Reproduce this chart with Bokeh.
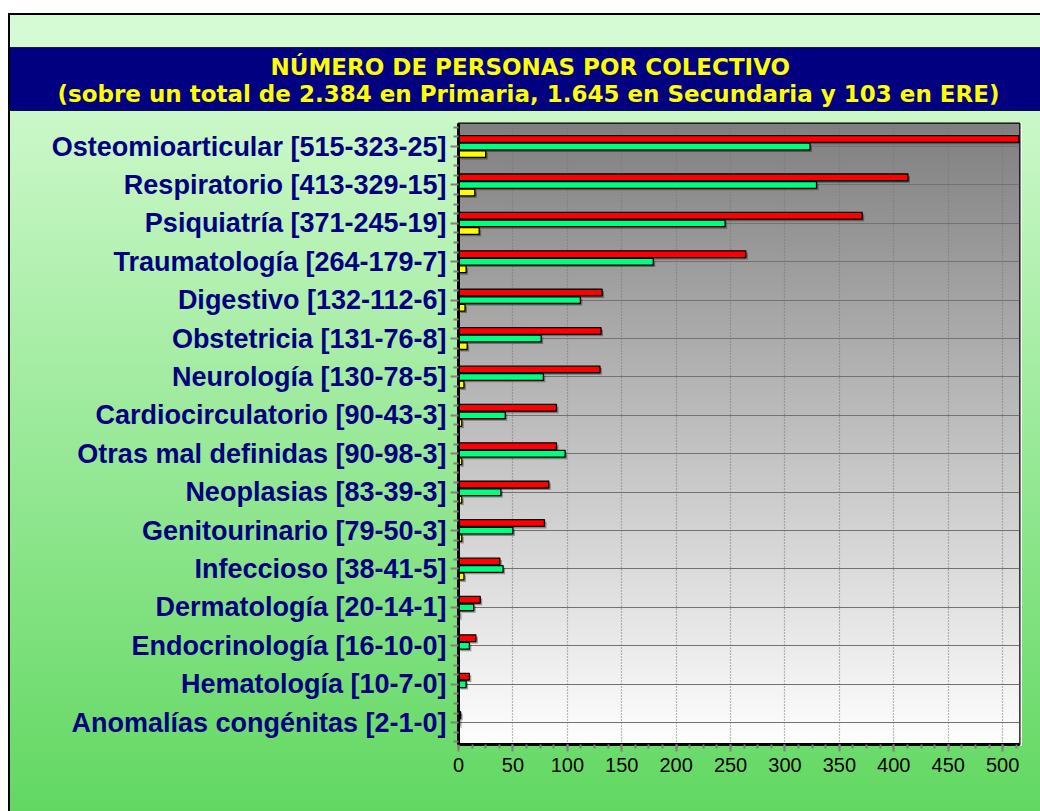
import numpy as np
from bokeh.plotting import figure
from bokeh.models import Range1d, FixedTicker, Title
from bokeh.embed import file_html
from bokeh.resources import INLINE

# ---------------- data ----------------
categories = ["Osteomioarticular", "Respiratorio", "Psiquiatría", "Traumatología",
              "Digestivo", "Obstetricia", "Neurología", "Cardiocirculatorio",
              "Otras mal definidas", "Neoplasias", "Genitourinario", "Infeccioso",
              "Dermatología", "Endocrinología", "Hematología", "Anomalías congénitas"]
primaria = [515, 413, 371, 264, 132, 131, 130, 90, 90, 83, 79, 38, 20, 16, 10, 2]
secundaria = [323, 329, 245, 179, 112, 76, 78, 43, 98, 39, 50, 41, 14, 10, 7, 1]
ere = [25, 15, 19, 7, 6, 8, 5, 3, 3, 3, 3, 5, 1, 0, 0, 0]
x_ticks = [0, 50, 100, 150, 200, 250, 300, 350, 400, 450, 500]
title_line1 = "NÚMERO DE PERSONAS POR COLECTIVO"
title_line2 = "(sobre un total de 2.384 en Primaria, 1.645 en Secundaria y 103 en ERE)"

n = len(categories)
pos = [n - 1 - k for k in range(n)]
labels = {pos[k]: f"{categories[k]} [{primaria[k]}-{secundaria[k]}-{ere[k]}]" for k in range(n)}

X_END = 515.5
Y_START, Y_END = -0.57, 15.6

W, H = 1040, 811
FRAME_L, FRAME_R, FRAME_T, FRAME_B = 458, 1019, 123, 744

css_bg = ", ".join([
    "linear-gradient(#fff,#fff) 0px 0px / 8px 100% no-repeat",
    "linear-gradient(#000,#000) 8px 13px / 2px 100% no-repeat",
    "linear-gradient(#fff,#fff) 1020px 122px / 2px 624px no-repeat",
    "linear-gradient(to bottom, #ffffff 0px, #ffffff 13px, #000000 13px, #000000 15px, "
    "#d4fbd4 15px, #d4fbd4 47px, #1a1a40 47px, #1a1a40 48px, #000080 48px, #000080 110px, "
    "#101030 110px, #101030 111px, #cbf8c9 111px, #62d862 100%)",
])

p = figure(width=W, height=H, output_backend="svg", toolbar_location=None,
           x_range=Range1d(0, X_END), y_range=Range1d(Y_START, Y_END),
           min_border_left=FRAME_L, min_border_right=W - FRAME_R,
           min_border_top=FRAME_T, min_border_bottom=H - FRAME_B,
           border_fill_color=None, background_fill_color=None,
           styles={"background": css_bg})
p.title.visible = False

# plot-area gradient (dark gray top -> white bottom)
rows = 622
g = np.linspace(255, 128, rows).astype(np.uint32)
img = np.empty((rows, 1), dtype=np.uint32)
img[:, 0] = (255 << 24) | (g << 16) | (g << 8) | g
p.image_rgba(image=[img], x=0, y=Y_START, dw=X_END, dh=Y_END - Y_START, level="image")

# bars
bh = 0.175
off = 0.197
dx, dy = 1.8, 0.052
series = [(primaria, "#ff0000", off), (secundaria, "#00ff80", 0.0), (ere, "#ffff00", -off)]
for vals, col, o in series:
    ys = [y + o for y in pos]
    p.hbar(y=[y - dy for y in ys], left=dx, right=[v + dx for v in vals], height=bh,
           fill_color="#000000", fill_alpha=0.35, line_color=None)
    p.hbar(y=ys, left=0, right=vals, height=bh, fill_color=col,
           line_color="#000000", line_width=1.3)

# axes
minor_y = [m * 0.25 - 0.5 for m in range(0, 65) if (m % 4) != 2]
p.yaxis.ticker = FixedTicker(ticks=pos, minor_ticks=minor_y)
p.yaxis.major_label_overrides = labels
p.yaxis.major_label_text_font = "Liberation Sans"
p.yaxis.major_label_text_font_style = "bold"
p.yaxis.major_label_text_font_size = "27px"
p.yaxis.major_label_text_color = "#000080"
p.yaxis.major_label_standoff = 4
p.yaxis.axis_line_color = "#000000"
p.yaxis.axis_line_width = 3
p.yaxis.major_tick_line_color = "#808080"
p.yaxis.major_tick_line_width = 2
p.yaxis.major_tick_out = 8
p.yaxis.major_tick_in = 0
p.yaxis.minor_tick_line_color = "#808080"
p.yaxis.minor_tick_line_width = 2
p.yaxis.minor_tick_out = 5
p.yaxis.minor_tick_in = 0

minor_x = [i * 12.5 for i in range(0, 42)]
p.xaxis.ticker = FixedTicker(ticks=x_ticks, minor_ticks=minor_x)
p.xaxis.major_label_text_font = "Liberation Sans"
p.xaxis.major_label_text_font_size = "20px"
p.xaxis.major_label_text_color = "#000000"
p.xaxis.major_label_standoff = 6
p.xaxis.axis_line_color = "#000000"
p.xaxis.axis_line_width = 3
p.xaxis.major_tick_line_color = "#808080"
p.xaxis.major_tick_line_width = 2
p.xaxis.major_tick_out = 7
p.xaxis.major_tick_in = 0
p.xaxis.minor_tick_line_color = "#808080"
p.xaxis.minor_tick_line_width = 2
p.xaxis.minor_tick_out = 4
p.xaxis.minor_tick_in = 0

# grids
p.ygrid.grid_line_color = "#727272"
p.ygrid.grid_line_width = 1.2
p.xgrid.grid_line_color = "#777777"
p.xgrid.grid_line_dash = "1 2"
p.xgrid.grid_line_width = 1.2

p.outline_line_color = "#000000"
p.outline_line_width = 2

# titles (line 2 is added first: it sits closest to the plot); offsets centre them on the page
p.add_layout(Title(text=title_line2, align="left", offset=57 - FRAME_L, text_color="#ffff00",
                   text_font="DejaVu Sans", text_font_style="bold",
                   text_font_size="23px", standoff=34), "above")
p.add_layout(Title(text=title_line1, align="left", offset=270 - FRAME_L, text_color="#ffff00",
                   text_font="DejaVu Sans", text_font_style="bold",
                   text_font_size="23px", standoff=-36), "above")

open("out.html", "w").write(file_html(p, INLINE))
